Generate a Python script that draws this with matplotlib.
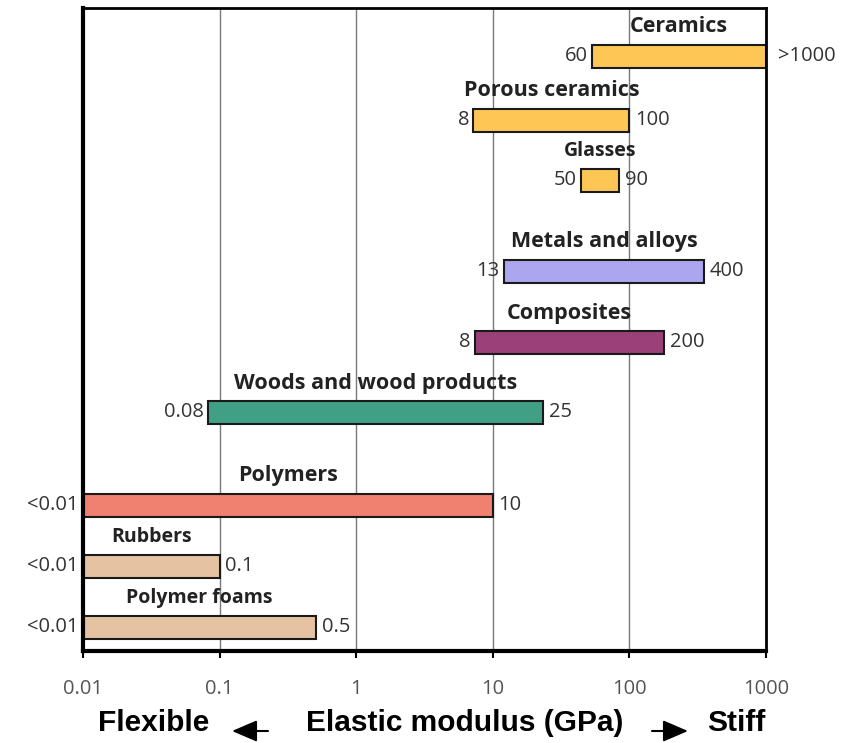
import matplotlib.pyplot as plt
from matplotlib.patches import FancyArrowPatch
import numpy as np

# Material classes, top to bottom
materials = ['Ceramics', 'Porous ceramics', 'Glasses', 'Metals and alloys', 'Composites',
             'Woods and wood products', 'Polymers', 'Rubbers', 'Polymer foams']
# Elastic modulus range (GPa), as drawn
low = [53, 7.2, 44, 12.1, 7.4, 0.082, 0.01, 0.01, 0.01]
high = [1000, 100, 84, 352, 179, 23.3, 10, 0.1, 0.51]
low_text = ['60', '8', '50', '13', '8', '0.08', '<0.01', '<0.01', '<0.01']
high_text = ['>1000', '100', '90', '400', '200', '25', '10', '0.1', '0.5']
colors = ['#FDC655', '#FDC655', '#FDC655', '#ABA6EF', '#9B4079',
          '#3FA085', '#F0806F', '#E5C3A2', '#E5C3A2']
ticks = [0.01, 0.1, 1, 10, 100, 1000]
tick_labels = ['0.01', '0.1', '1', '10', '100', '1000']

# row centres (layout, in axes pixel units from top)
ypos = [56, 120, 180, 271, 342, 412, 505, 566, 627]
bar_h = 23
small_labels = ('Glasses', 'Rubbers', 'Polymer foams')

fig = plt.figure(figsize=(8.61, 7.43), dpi=100)
ax = fig.add_axes([83/861, 1 - 651/743, (766-83)/861, (651-8)/743])

ax.set_xscale('log')
ax.set_xlim(0.01, 1000)
ax.set_ylim(651, 8)

for t in ticks[1:-1]:
    ax.axvline(t, color='#7a7a7a', lw=1, zorder=0)

fnt = 'Open Sans'
for i, m in enumerate(materials):
    y = ypos[i]
    ax.barh(y, high[i] - low[i], left=low[i], height=bar_h, color=colors[i],
            edgecolor='#1a1a1a', lw=1.5, zorder=2, clip_on=False)
    # label above the bar, centred in log space
    cx = np.sqrt(low[i] * high[i])
    fs = 14 if m in small_labels else 15.5
    ax.text(cx, y - bar_h/2 - 7, m, ha='center', va='bottom', fontsize=fs,
            fontweight='bold', family=fnt, color='#222222')
    ax.text(low[i] * 0.93, y, low_text[i], ha='right', va='center', fontsize=14.5,
            family=fnt, color='#333333', clip_on=False)
    gap = 1.23 if high_text[i].startswith('>') else 1.1
    ax.text(high[i] * gap, y, high_text[i], ha='left', va='center', fontsize=14.5,
            family=fnt, color='#333333', clip_on=False)

ax.set_yticks([])
ax.set_xticks(ticks)
ax.set_xticklabels(tick_labels, family=fnt, fontsize=14.5, color='#555555')
ax.minorticks_off()
ax.tick_params(axis='x', direction='out', length=5, width=1.5, pad=15)
for s in ax.spines.values():
    s.set_linewidth(2)
ax.spines['left'].set_linewidth(3)
ax.spines['bottom'].set_linewidth(3)

# axis caption with arrows
cap = dict(fontsize=21.5, fontweight='bold', family='Liberation Sans', va='center', ha='center')
fig.text(154/861, 1 - 723/743, 'Flexible', **cap)
fig.text(465/861, 1 - 723/743, 'Elastic modulus (GPa)', **cap)
fig.text(736/861, 1 - 723/743, 'Stiff', **cap)
arr = dict(arrowstyle='-|>,head_length=0.7,head_width=0.3', color='black', lw=1.5,
           mutation_scale=22, shrinkA=0, shrinkB=0)
fig.add_artist(FancyArrowPatch((268/861, 1 - 731/743), (232/861, 1 - 731/743),
                               transform=fig.transFigure, **arr))
fig.add_artist(FancyArrowPatch((652/861, 1 - 731/743), (688/861, 1 - 731/743),
                               transform=fig.transFigure, **arr))

fig.savefig('out.png', dpi=100)
